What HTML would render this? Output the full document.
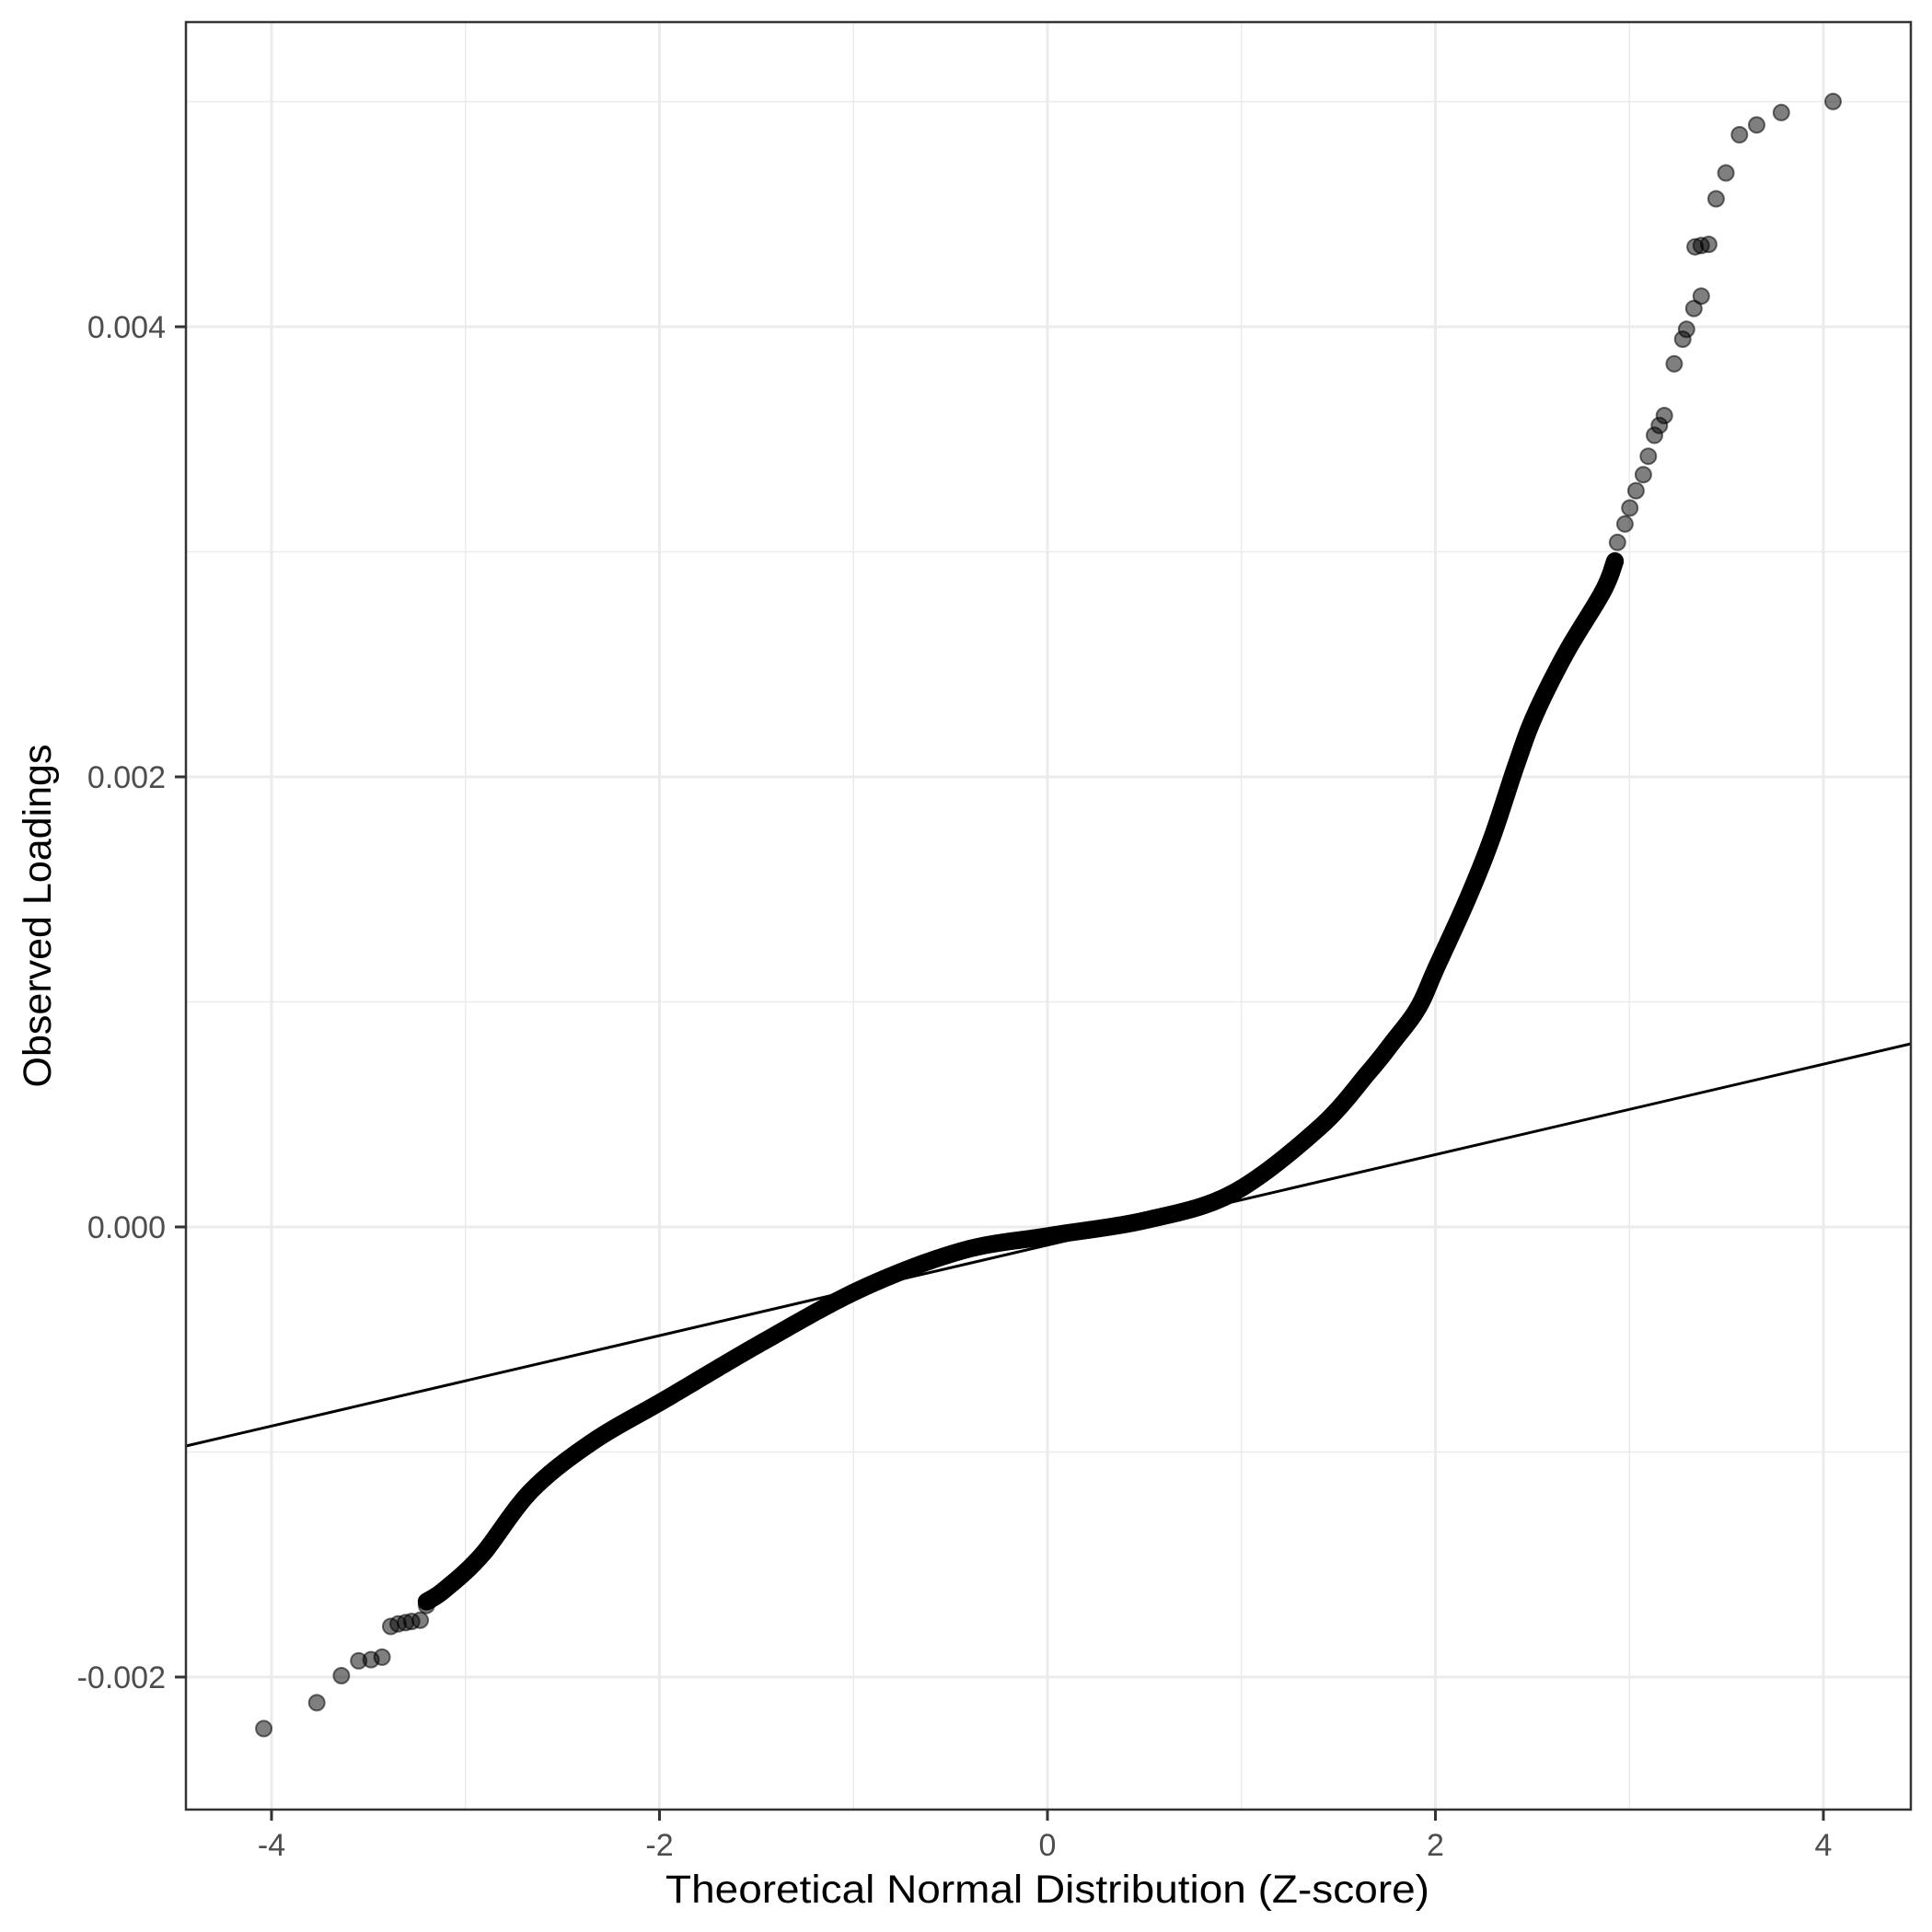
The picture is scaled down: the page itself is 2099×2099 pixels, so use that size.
<!DOCTYPE html>
<html><head><meta charset="utf-8"><style>html,body{margin:0;padding:0;background:#fff}svg{display:block}</style></head>
<body>
<svg id="s" xmlns="http://www.w3.org/2000/svg" width="2099" height="2099" viewBox="0 0 2099 2099" font-family="Liberation Sans, sans-serif">
<rect width="2099" height="2099" fill="#fff"/>
<g id="grid"></g>
<line x1="202" y1="1571" x2="2076" y2="1134" stroke="#000" stroke-width="3"/>
<g id="pts"></g>
<rect x="202" y="24" width="1874" height="1942" fill="none" stroke="#333" stroke-width="2.5"/>
<g id="ticks"></g>
<text x="1138" y="2067" font-size="43" text-anchor="middle" textLength="830" lengthAdjust="spacingAndGlyphs">Theoretical Normal Distribution (Z-score)</text>
<text transform="translate(55,995) rotate(-90)" font-size="43" text-anchor="middle">Observed Loadings</text>
</svg>
<script>
const NS="http://www.w3.org/2000/svg";
const X=z=>1138+210.75*z, Y=v=>1333-244.5*v*1000;
const K=1.3382;
function el(p,t,a){const e=document.createElementNS(NS,t);for(const k in a)e.setAttribute(k,a[k]);document.getElementById(p).appendChild(e);return e;}
for(let z=-5;z<=5;z+=1){const x=X(z);if(x<203||x>2075)continue;el('grid','line',{x1:x,x2:x,y1:24,y2:1966,stroke:'#ebebeb','stroke-width':z%2===0?3:1.5});}
for(let v=-3;v<=5;v+=1){const y=Y(v/1000);if(y<25||y>1965)continue;el('grid','line',{x1:202,x2:2076,y1:y,y2:y,stroke:'#ebebeb','stroke-width':v%2===0?3:1.5});}
[-4,-2,0,2,4].forEach(z=>{const x=X(z);el('ticks','line',{x1:x,x2:x,y1:1966,y2:1978,stroke:'#333','stroke-width':3});
 const t=el('ticks','text',{x:x,y:2016,'font-size':34,'text-anchor':'middle',fill:'#4d4d4d'});t.textContent=(z<0?'-':'')+Math.abs(z);});
[[-2,'-0.002'],[0,'0.000'],[2,'0.002'],[4,'0.004']].forEach(([v,l])=>{const y=Y(v/1000);el('ticks','line',{x1:190,x2:202,y1:y,y2:y,stroke:'#333','stroke-width':3});
 const t=el('ticks','text',{x:180,y:y+12,'font-size':34,'text-anchor':'end',fill:'#4d4d4d'});t.textContent=l;});
const S=[[345,1300],[360,1290],[390,1262],[430,1210],[480,1170],[540,1135],[620,1088],[700,1045],[780,1015],[850,1003],[930,990],[1000,968],[1070,915],[1110,870],[1130,845],[1150,818],[1165,785],[1190,730],[1210,680],[1230,620],[1245,580],[1270,530],[1300,480],[1310,455]];
function cr(p0,p1,p2,p3,t){const t2=t*t,t3=t2*t;return 0.5*((2*p1)+(-p0+p2)*t+(2*p0-5*p1+4*p2-p3)*t2+(-p0+3*p1-3*p2+p3)*t3);}
const pts=[];
for(let i=0;i<S.length-1;i++){const a=S[Math.max(0,i-1)],b=S[i],c=S[i+1],d=S[Math.min(S.length-1,i+2)];
 for(let k=0;k<120;k++){const t=k/120;pts.push([cr(a[0],b[0],c[0],d[0],t),cr(a[1],b[1],c[1],d[1],t)]);}}
pts.push(S[S.length-1]);
const out=[[213,1403],[256,1382],[276,1360],[290,1348],[300,1347],[309,1345],[316,1320],[322,1318],[328,1317],[333,1316],[340,1315],[345,1303],
[1312,440],[1318,425],[1322,412],[1327,398],[1333,385],[1337,370],[1342,353],[1346,345],[1350,337],[1358,295],[1365,275],[1368,267],[1374,250],[1380,240],[1375,200],[1380,199],[1386,198],[1392,161],[1400,140],[1411,109],[1425,101],[1445,91],[1487,82]];
out.forEach(p=>pts.push(p));
const g=document.getElementById('pts');let h='';
pts.forEach(([x,y])=>{h+=`<circle cx="${((x+1.2)*K).toFixed(1)}" cy="${((y+0.4)*K).toFixed(1)}" r="8.5" fill="rgba(0,0,0,0.5)" stroke="rgba(0,0,0,0.55)" stroke-width="2"/>`;});
g.innerHTML=h;
</script>
</body></html>
